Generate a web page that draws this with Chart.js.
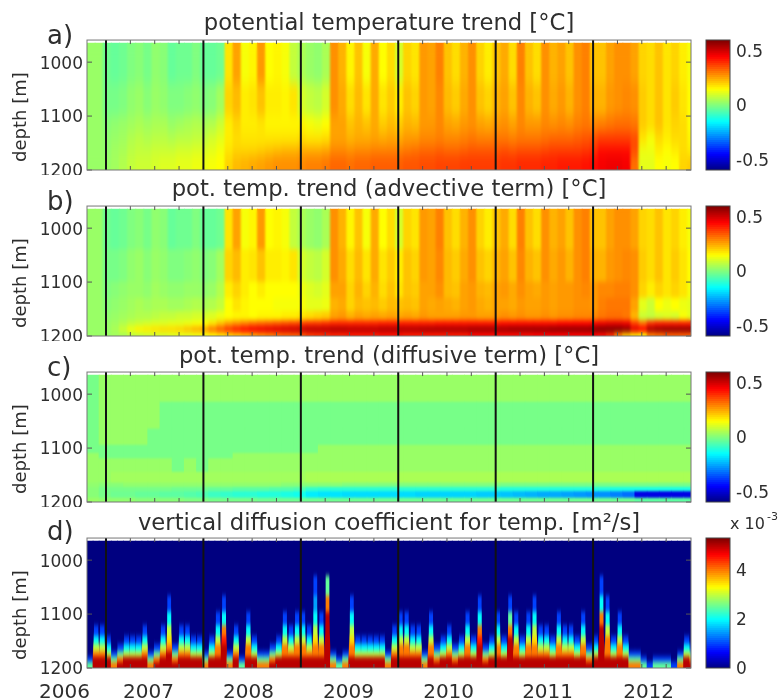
<!DOCTYPE html>
<html>
<head>
<meta charset="utf-8">
<style>
  body { margin: 0; background: #fff; }
  canvas { position: absolute; }
</style>
<script src="https://cdn.jsdelivr.net/npm/chart.js@4"></script>
</head>
<body>
<svg width="0" height="0" style="position:absolute">
  <filter id="softA" color-interpolation-filters="sRGB" x="-5%" y="-20%" width="110%" height="140%"><feGaussianBlur stdDeviation="1 6"/></filter>
  <filter id="softB" color-interpolation-filters="sRGB" x="-5%" y="-20%" width="110%" height="140%"><feGaussianBlur stdDeviation="1 2.5"/></filter>
  <filter id="softC" color-interpolation-filters="sRGB" x="-5%" y="-20%" width="110%" height="140%"><feGaussianBlur stdDeviation="0.7 1.2"/></filter>
  <filter id="softD" color-interpolation-filters="sRGB" x="-5%" y="-20%" width="110%" height="140%"><feGaussianBlur stdDeviation="0.6 2.5"/></filter>
</svg>
<script>
const depthTicks = [1000, 1100, 1200];
const yearLines = [2007, 2008, 2009, 2010, 2011, 2012];
const quarterTicks = [2007, 2007.25, 2007.5, 2007.75, 2008, 2008.25, 2008.5, 2008.75, 2009, 2009.25, 2009.5, 2009.75,
  2010, 2010.25, 2010.5, 2010.75, 2011, 2011.25, 2011.5, 2011.75, 2012, 2012.25, 2012.5, 2012.75];
const yearLabels = ['2006', '2007', '2008', '2009', '2010', '2011', '2012'];
const yearLabelPos = [2006.574, 2007.437, 2008.463, 2009.49, 2010.517, 2011.533, 2012.57];
const titles = [
  'potential temperature trend [°C]',
  'pot. temp. trend (advective term) [°C]',
  'pot. temp. trend (diffusive term) [°C]',
  'vertical diffusion coefficient for temp. [m²/s]'
];
const panelLetters = ['a)', 'b)', 'c)', 'd)'];

// a) total trend, hundredths of a degree, one list per depth band, monthly columns
const trendEdges = [965, 1040, 1100, 1130, 1155, 1175, 1200];
const trend1000 = [3,3,-2,
  -3,-2,0,1,-1,2,1,-3,-2,-2,0,-3,
  -3,-2,18,26,14,16,27,15,16,14,8,5,
  3,2,5,28,24,16,22,14,25,15,19,10,
  20,18,27,26,30,22,19,24,28,20,17,22,
  25,19,30,22,19,28,24,26,22,28,30,22,
  22,26,28,28,26,20,19,22,18,20,17,14];
const trend1070 = [3,3,-1,
  -1,0,2,3,1,3,2,0,0,1,2,0,
  1,4,20,23,17,18,22,17,17,16,18,10,
  8,7,10,28,25,19,23,18,25,18,21,17,
  22,20,27,26,29,23,21,25,28,22,20,24,
  26,22,29,24,22,28,25,27,24,28,30,24,
  24,27,28,29,28,21,19,22,18,21,18,15];
const trend1115 = [3,3,1,
  2,3,4,5,4,5,5,3,4,5,6,5,
  6,9,17,20,17,17,18,16,16,16,16,16,
  14,13,15,26,26,22,24,22,25,21,23,21,
  24,23,27,27,29,26,25,27,28,26,25,27,
  28,26,29,27,27,29,28,29,28,30,31,29,
  30,31,32,32,31,21,19,22,18,20,19,15];
const trend1142 = [3,3,2,
  3,4,6,7,6,7,7,6,7,7,8,8,
  10,12,17,19,18,18,18,18,18,18,18,19,
  18,18,19,26,26,24,25,25,26,25,26,25,
  27,27,29,29,30,29,29,30,31,30,30,31,
  31,30,31,31,31,32,33,33,33,34,35,36,
  38,38,38,38,36,18,14,19,17,19,19,16];
const trend1165 = [3,3,2,
  4,5,7,8,8,9,9,9,10,10,11,11,
  12,14,18,20,20,20,21,22,23,24,24,25,
  25,25,26,29,29,28,29,29,30,30,30,30,
  31,32,33,33,34,33,33,34,35,35,35,35,
  36,35,36,36,36,37,38,38,38,38,39,40,
  44,44,44,44,36,13,13,17,15,17,19,17];
const trend1188 = [3,3,3,
  4,6,8,9,9,10,11,11,12,12,13,13,
  14,15,20,23,24,25,26,27,28,28,28,29,
  30,30,31,33,33,32,33,33,34,34,34,34,
  35,35,36,36,37,37,37,38,38,38,38,38,
  39,39,40,40,40,41,41,42,42,42,43,44,
  46,47,47,46,32,12,12,15,14,15,20,21];

// b) advective term, upper two bands read the same as in a)
const advEdges = [965, 1040, 1100, 1130, 1155, 1172, 1183, 1194, 1200];
const adv1115 = [3,3,0,
  1,2,3,3,2,4,3,2,2,3,3,2,
  3,6,17,20,17,15,17,15,15,15,15,13,
  11,10,12,26,26,20,24,20,24,19,22,18,
  22,21,26,26,28,23,22,26,27,24,23,26,
  27,25,28,26,25,27,26,27,27,28,29,27,
  29,29,30,30,28,20,17,20,18,20,18,14];
const adv1142 = [3,3,1,
  2,3,4,5,4,5,5,4,4,5,6,5,
  6,8,15,18,16,15,15,15,14,14,14,14,
  12,12,13,24,25,20,23,22,23,21,23,22,
  23,22,26,25,26,25,24,26,27,25,24,26,
  26,25,27,26,26,27,26,27,27,28,28,27,
  30,31,31,31,26,12,9,15,13,15,13,12];
const adv1163 = [3,3,2,
  3,4,5,6,6,7,8,8,9,9,10,10,
  11,13,15,16,16,15,16,16,16,17,17,18,
  19,20,21,26,27,24,26,25,26,25,26,25,
  26,25,27,26,26,26,26,27,27,26,26,27,
  28,27,28,27,27,28,27,28,28,29,29,29,
  31,32,32,31,24,9,8,10,11,10,14,12];
const adv1178 = [3,3,3,
  4,6,8,9,10,11,11,12,12,13,14,15,
  18,22,26,28,30,32,33,34,35,36,37,38,
  39,39,40,41,41,41,41,41,41,42,42,42,
  42,42,42,42,43,43,43,43,43,43,43,43,
  44,44,44,44,44,44,44,45,45,45,45,46,
  47,48,48,47,38,32,40,42,42,42,42,42];
const adv1188 = [3,3,3,
  5,9,13,16,17,18,19,19,20,22,24,26,
  31,35,39,42,44,46,47,48,49,50,51,52,
  53,53,53,54,54,53,53,53,53,54,54,54,
  54,54,55,55,55,55,55,55,56,56,56,56,
  56,57,57,57,57,57,58,58,58,58,58,59,
  60,60,60,58,48,45,55,57,58,58,58,58];
const adv1197 = [3,3,3,
  4,5,7,8,9,10,10,11,12,12,13,14,
  16,18,20,22,24,26,28,30,32,33,34,35,
  38,39,40,41,41,42,42,42,42,43,43,43,
  42,42,42,42,42,42,42,42,44,44,44,44,
  44,44,44,44,45,45,45,45,45,45,45,45,
  44,40,30,22,18,16,30,32,34,34,34,34];

// c) diffusive term, eighth-of-a-year columns
const diffEdges = [965, 1015, 1065, 1095, 1110, 1120, 1145, 1165, 1173, 1181, 1193, 1200];
const diff990 = [-1,3, 3,3,3,3,3,3,3,3, 3,3,3,3,3,3,3,3, 3,3,3,3,3,3,3,3, 3,3,3,3,3,3,3,3, 3,3,3,3,3,3,3,3, 3,3,3,3,3,3,3,3];
const diff1040 = [-1,3, 3,3,3,3,-1,-1,-1,-1, -1,-1,-1,-1,-1,-1,-1,-1, -1,-1,-1,-1,-1,-1,-1,-1, -1,-1,-1,-1,-1,-1,-1,-1, -1,-1,-1,-1,-1,-1,-1,-1, -1,-1,-1,-1,-1,-1,-1,-1];
const diff1080 = [-1,3, 3,3,3,-1,-1,-1,-1,-1, -1,-1,-1,-1,-1,-1,-1,-1, -1,-1,-1,-1,-1,-1,-1,-1, -1,-1,-1,-1,-1,-1,-1,-1, -1,-1,-1,-1,-1,-1,-1,-1, -1,-1,-1,-1,-1,-1,-1,-1];
const diff1102 = [-1,-1, -1,-1,-1,-1,-1,-1,-1,-1, -1,-1,-1,-1,-1,-1,-1,-1, -1,3,3,3,3,3,3,3, 3,3,3,3,3,3,3,3, 3,3,3,3,3,3,3,3, 3,3,3,3,3,3,3,3];
const diff1115 = [3,-1, -1,-1,-1,-1,-1,-1,-1,-1, -1,-1,3,3,3,3,3,3, 3,3,3,3,3,3,3,3, 3,3,3,3,3,3,3,3, 3,3,3,3,3,3,3,3, 3,3,3,3,3,3,3,3];
const diff1132 = [3,3, 3,3,3,3,3,-1,3,-1, 3,3,3,3,3,3,3,3, 3,3,3,3,3,3,3,3, 3,3,3,3,3,3,3,3, 3,3,3,3,3,3,3,3, 3,3,3,3,3,3,3,3];
const diff1155 = [3,3, 4,4,4,4,4,4,4,4, 4,4,4,4,4,4,4,4, 5,5,5,5,5,5,5,5, 5,5,5,5,5,5,5,5, 5,5,5,5,5,5,5,5, 5,5,5,5,5,5,5,5];
const diff1169 = [2,1, 1,2,2,2,2,2,2,2, 2,2,2,2,2,2,1,1, 1,1,1,0,0,0,0,0, 0,0,0,0,0,0,0,0, -1,-1,-1,-1,-1,-1,-1,-1, -1,-1,-1,-1,-1,-1,-1,-1];
const diff1177 = [1,-1, -1,-1,-1,-1,-1,-2,-2,-2, -3,-3,-4,-4,-4,-5,-5,-6, -9,-10,-10,-10,-10,-10,-10,-10, -10,-10,-10,-10,-10,-10,-10,-10, -11,-11,-11,-11,-11,-11,-11,-11, -11,-12,-12,-12,-12,-12,-12,-12];
const diff1187 = [1,-1, -2,-2,-3,-3,-4,-4,-5,-6, -8,-9,-10,-10,-11,-11,-12,-13, -17,-18,-18,-19,-19,-19,-19,-19, -19,-20,-20,-20,-20,-20,-21,-21, -22,-23,-24,-25,-25,-26,-27,-28, -28,-30,-32,-48,-48,-48,-48,-48];
const diff1197 = [3,2, 2,2,1,1,1,1,0,0, -1,-1,-1,-1,-2,-2,-2,-2, -2,-2,-2,-2,-2,-2,-2,-2, -2,-2,-2,-2,-2,-2,-2,-2, -2,-2,-2,-2,-2,-2,-2,-2, -2,-2,-2,-4,-4,-4,-4,-4];

// d) diffusion coefficient in 1e-3 m2/s, sixteenth-of-a-year columns
const kvEdges = [1030, 1065, 1095, 1120, 1140, 1155, 1168, 1178, 1188, 1200];
const kvRowWidths = [0.45, 0.45, 0.5, 0.55, 0.65, 0.8, 0.9, 1, 1];
const kv1048 = [0,0,0,0,0,0,0,0,0,0, 0,0,0,0,0,0,0,0,0,0, 0,0,0,0,0,0,0,0,0,0, 0,0,0,0,0,0,0,1,0,2.5,
  0,0,0,0,0,0,0,0,0,0, 0,0,0,0,0,0,0,0,0,0, 0,0,0,0,0,0,0,0,0,0, 0,0,0,0,0,0,0,0,0,0, 0,0,0,0,1,0,0,0,0,0, 0,0,0,0,0,0,0,0,0,0];
const kv1080 = [0,0,0,0,0,0,0,0,0,0, 0,0,0,1,0,0,0,0,0,0, 0,0,1,0,0,0,0,0,0,0, 0,0,0,0,0,0,0,1.5,0,4,
  0,0,0,1,0,0,0,0,0,0, 0,0,0,0,0,0,0,0,0,0, 0,0,0,0,1,0,0,0,0,1, 0,0,0,1,0,0,0,0,0,0, 0,0,0,0,2,1,0,0,0,0, 0,0,0,0,0,0,0,0,0,0];
const kv1108 = [0,0,0,0,0,0,0,0,0,0, 0,0,0,2,0,0,0,0,0,0, 0,1,2,0,0,0,1,0,0,0, 0,0,1,0,1,1,0,2,1,5,
  0,0,0,2,0,0,0,0,0,0, 0,1,1,0,0,0,1,0,0,0, 0,0,1,0,2,0,0,1,0,2.5, 1,0,1,2,0,0,0,1,0,0, 0,1,0,0,4,2,0,1,0,0, 0,0,0,0,0,0,0,0,0,0];
const kv1130 = [0,1,1,0,0,0,0,0,0,1, 0,0,1,3,0,1,1,0,0,0, 0,2,4,0,1,0,2,0,0,0, 0,0,2,1,2,2,1,3,2,5,
  0,0,0,3,0,0,0,0,0,0, 1,2,2,1,1,0,2,0,0,1, 0,0,2,0,4,0,0,2,0,4, 2,0,2,3,1,1,0,2,1,1, 0,2,0,0,5,3,0,2,0,0, 0,0,0,0,0,0,0,0,0,0];
const kv1148 = [0,2,2,1,0,0,1,1,1,2, 0,0,2,3.5,0,2,2,1,1,0, 1,3,4.5,0,2,0,3,1,0,0, 0,1,3,2,3,3,2,3.5,3,5,
  0,0,0,3.5,1,1,1,1,1,0, 2,3,3,2,2,0,3,0,1,2, 0,1,3,1,4.5,0,1,3,1,5, 3,1,3,3.5,2,2,1,3,2,2, 1,3,0,1,5,4,1,3,1,0, 0,0,0,0,0,0,0,0,1,0];
const kv1162 = [0,3,3,2,0,1,2,2,2,3, 0,1,3,4,1,3,3,2,2,0, 2,4,5,0,3,0,4,2,0,0, 1,2,4,3,4,4,3,4,4,5,
  0,0,0,4,2,2,2,2,2,0, 3,4,4,3,3,0,4,1,2,3, 1,2,4,2,5,1,2,4,2,5, 4,2,4,4,3,3,2,4,3,3, 2,4,1,2,5,4,2,4,2,0, 0,0,0,0,0,0,0,0,2,1];
const kv1173 = [0,4,4,3,1,2.5,3,3,3,4, 1,2.5,4,5,2.5,4,4,3,3,1, 3,4,5,1,4,0,4,3,1,1, 2.5,3,4,4,4,4,4,4,4,5,
  1,0,1,4,3,3,3,3,3,1, 4,4,4,4,4,1,4,2.5,3,4, 2.5,3,4,3,5,2.5,3,4,3,5, 4,3,4,4,4,4,3,4,4,4, 3,4,2.5,3,5,4,3,4,3,1, 1,0,0,0,0,0,0,1,3,2.5];
const kv1183 = [1,5,5,5,2.5,4,5,5,5,5, 2.5,4,5,5,4,5,5,5,5,2.5, 5,5,5,2.5,5,1,5,5,2.5,2.5, 4,5,5,5,5,5,5,5,5,5,
  2.5,1,2.5,5,5,5,5,5,5,2.5, 5,5,5,5,5,2.5,5,4,5,5, 4,5,5,5,5,4,5,5,5,5, 5,5,5,5,5,5,5,5,5,5, 5,5,4,5,5,5,5,5,5,2.5, 2.5,1,0,1,1,1,0,2.5,5,4];
const kv1194 = [2.5,5,5,5,4,5,5,5,5,5, 4,5,5,5,5,5,5,5,5,4, 5,5,5,4,5,2.5,5,5,4,4, 5,5,5,5,5,5,5,5,5,5,
  4,2.5,4,5,5,5,5,5,5,4, 5,5,5,5,5,4,5,5,5,5, 5,5,5,5,5,5,5,5,5,5, 5,5,5,5,5,5,5,5,5,5, 5,5,5,5,5,5,5,5,5,4, 4,2.5,1,2.5,2.5,2.5,1,4,5,5];
const kvBackground = [0,0,0,0,0,0,0,0,0,0, 0,0,0,0,0,0,0,0,0,0, 0,0,0,0,0,0,0,0,0,0, 0,0,0,0,0,0,0,0,0,0,
  0,0,0,0,0,0,0,0,0,0, 0,0,0,0,0,0,0,0,0,0, 0,0,0,0,0,0,0,0,0,0, 0,0,0,0,0,0,0,0,0,0, 0,0,0,0,0,0,0,0,0,0, 0,0,0,0,0,0,0,0,0,0];

const tempTicks = [-0.5, 0, 0.5];
const kvTicks = [0, 2, 4];

const darkText = '#2e2e2e';
const fontName = '"DejaVu Sans"';
const dataTop = 965;

function jet(t) {
  const c = v => Math.round(255 * Math.max(0, Math.min(1, v)));
  return 'rgb(' + c(Math.min(4 * t - 1.5, -4 * t + 4.5)) + ',' + c(Math.min(4 * t - 0.5, -4 * t + 3.5)) + ',' + c(Math.min(4 * t + 0.5, -4 * t + 2.5)) + ')';
}
const tempColor = v => jet((v + 0.6) / 1.2);
const kvColor = v => jet(v / 5.3);

// one floating bar per grid cell
function cellBars(rows, edges, step, scale, colorFn, width) {
  const data = [], colors = [];
  rows.forEach((row, r) => {
    row.forEach((v, k) => {
      data.push({ x: 2006.805 + (k + 0.5) * step, y: [edges[r], edges[r + 1]] });
      colors.push(colorFn(v * scale));
    });
  });
  return { data: data, backgroundColor: colors, inflateAmount: 0.5, grouped: false, barPercentage: width || 1, categoryPercentage: 1 };
}

function drawText(ctx, text, x, y, font, align, angle) {
  ctx.save();
  ctx.fillStyle = darkText;
  ctx.font = font;
  ctx.textAlign = align;
  ctx.textBaseline = 'middle';
  ctx.translate(x, y);
  if (angle) ctx.rotate(angle);
  ctx.fillText(text, 0, 0);
  ctx.restore();
}

// the original is a smooth shaded field, so soften the cell edges a bit
function softenCells(chart, filterId) {
  const ctx = chart.ctx, a = chart.chartArea;
  const top = chart.scales.y.getPixelForValue(dataTop);
  const w = a.right - a.left, h = a.bottom - top;
  ctx.save();
  ctx.beginPath();
  ctx.rect(a.left, top, w, h);
  ctx.clip();
  ctx.filter = 'url(#' + filterId + ')';
  ctx.drawImage(chart.canvas, a.left, top, w, h, a.left, top, w, h);
  ctx.restore();
}

const heatDecor = {
  id: 'heatDecor',
  afterDatasetsDraw(chart, args, opts) {
    softenCells(chart, opts.soft);
    const ctx = chart.ctx, a = chart.chartArea, x = chart.scales.x, y = chart.scales.y;
    ctx.save();
    ctx.strokeStyle = '#555';
    ctx.lineWidth = 1;
    ctx.beginPath();
    quarterTicks.forEach(q => {
      const px = x.getPixelForValue(q);
      ctx.moveTo(px, a.top); ctx.lineTo(px, a.top + 4);
      ctx.moveTo(px, a.bottom); ctx.lineTo(px, a.bottom - 4);
    });
    depthTicks.forEach(d => {
      const py = y.getPixelForValue(d);
      ctx.moveTo(a.left, py); ctx.lineTo(a.left + 5, py);
      ctx.moveTo(a.right, py); ctx.lineTo(a.right - 5, py);
    });
    ctx.stroke();
    ctx.strokeStyle = '#111';
    ctx.lineWidth = 2;
    ctx.beginPath();
    yearLines.forEach(yr => {
      const px = x.getPixelForValue(yr);
      ctx.moveTo(px, a.top); ctx.lineTo(px, a.bottom);
    });
    ctx.stroke();
    ctx.strokeStyle = '#777';
    ctx.lineWidth = 1;
    ctx.strokeRect(a.left, a.top, a.right - a.left, a.bottom - a.top);
    ctx.restore();

    drawText(ctx, opts.letter, 47, opts.letterY, '26px ' + fontName, 'left');
    drawText(ctx, 'depth [m]', 21, a.top + 77, '18px ' + fontName, 'center', -Math.PI / 2);
    if (opts.years) {
      yearLabels.forEach((t, i) => {
        drawText(ctx, t, x.getPixelForValue(yearLabelPos[i]), a.bottom + 25, '20px ' + fontName, 'center');
      });
    }
  }
};

function makeHeatPanel(top, height, padBottom, title, titlePad, datasets, letterY, letter, years, soft) {
  const cv = document.createElement('canvas');
  cv.style.left = '0px';
  cv.style.top = top + 'px';
  document.body.appendChild(cv);
  cv.width = 700;
  cv.height = height;
  cv.style.width = '700px';
  cv.style.height = height + 'px';
  new Chart(cv, {
    type: 'bar',
    data: { datasets: datasets },
    plugins: [heatDecor],
    options: {
      responsive: false,
      animation: false,
      layout: { padding: { top: 4, right: 9, bottom: padBottom, left: 0 } },
      plugins: {
        legend: { display: false },
        tooltip: { enabled: false },
        title: {
          display: true, text: title, fullSize: false, color: darkText,
          font: { family: 'DejaVu Sans', size: 22.7, weight: 'normal' },
          padding: titlePad
        },
        heatDecor: { letter: letter, letterY: letterY, years: years, soft: soft }
      },
      scales: {
        x: {
          type: 'linear', offset: false, min: 2006.805, max: 2013.005,
          grid: { display: false }, border: { display: false },
          ticks: { display: false },
          afterBuildTicks: ax => { ax.ticks = quarterTicks.map(v => ({ value: v })); },
          afterFit: ax => { ax.height = 0; }
        },
        y: {
          reverse: true, min: 959, max: 1200,
          grid: { display: false, drawTicks: false }, border: { display: false },
          ticks: { color: darkText, padding: 4, labelOffset: 2, font: { family: 'DejaVu Sans', size: 17 }, callback: v => String(v) },
          afterBuildTicks: ax => { ax.ticks = depthTicks.map(v => ({ value: v })); },
          afterFit: ax => { ax.width = 87; ax.paddingTop = 0; ax.paddingBottom = 0; }
        }
      }
    }
  });
}

const barDecor = {
  id: 'barDecor',
  afterDatasetsDraw(chart, args, opts) {
    const ctx = chart.ctx, a = chart.chartArea;
    ctx.save();
    ctx.strokeStyle = '#444';
    ctx.strokeRect(a.left, a.top, a.right - a.left, a.bottom - a.top);
    ctx.restore();
    if (opts.power) {
      drawText(ctx, 'x 10', 30, a.top - 13, '16px ' + fontName, 'left');
      drawText(ctx, '-3', 67, a.top - 21, '11px ' + fontName, 'left');
    }
  }
};

function makeColorbar(top, height, padBottom, lo, hi, ticks, colorFn, power) {
  const cv = document.createElement('canvas');
  cv.style.left = '700px';
  cv.style.top = top + 'px';
  document.body.appendChild(cv);
  cv.width = 83;
  cv.height = height;
  cv.style.width = '83px';
  cv.style.height = height + 'px';
  const levels = [];
  for (let i = 0; i < 64; i++) levels.push(lo + (hi - lo) * (i + 0.5) / 64);
  new Chart(cv, {
    type: 'bar',
    data: {
      datasets: [{
        data: levels.map(v => ({ y: v, x: [0, 1] })),
        backgroundColor: levels.map(colorFn),
        inflateAmount: 0.5, barPercentage: 1, categoryPercentage: 1
      }]
    },
    plugins: [barDecor],
    options: {
      indexAxis: 'y',
      responsive: false,
      animation: false,
      layout: { padding: { top: 40, right: 0, bottom: padBottom, left: 6 } },
      plugins: {
        legend: { display: false },
        tooltip: { enabled: false },
        barDecor: { power: power }
      },
      scales: {
        x: { type: 'linear', min: 0, max: 1, display: false },
        y: {
          type: 'linear', position: 'right', offset: false, min: lo, max: hi,
          grid: { display: false, drawTicks: false }, border: { display: false },
          ticks: { color: darkText, padding: 6, labelOffset: 2, font: { family: 'DejaVu Sans', size: 17 } },
          afterBuildTicks: ax => { ax.ticks = ticks.map(v => ({ value: v })); },
          afterFit: ax => { ax.width = 53; ax.paddingTop = 0; ax.paddingBottom = 0; }
        }
      }
    }
  });
}

const trendRows = [trend1000, trend1070, trend1115, trend1142, trend1165, trend1188];
const advRows = [trend1000, trend1070, adv1115, adv1142, adv1163, adv1178, adv1188, adv1197];
const diffRows = [diff990, diff1040, diff1080, diff1102, diff1115, diff1132, diff1155, diff1169, diff1177, diff1187, diff1197];
const kvRows = [kv1048, kv1080, kv1108, kv1130, kv1148, kv1162, kv1173, kv1183, kv1194];

// narrower bars high up make the spikes taper, the first dataset is drawn on top
const kvDatasets = kvRows.map((row, r) => cellBars([row], [kvEdges[r], kvEdges[r + 1]], 1 / 16, 1, kvColor, kvRowWidths[r]));
kvDatasets.push(cellBars([kvBackground], [965, 1200], 1 / 16, 1, kvColor, 1));

makeHeatPanel(0, 175, 5, titles[0], { top: 6.4, bottom: 2.4 }, [cellBars(trendRows, trendEdges, 1 / 12, 0.01, tempColor)], 37, panelLetters[0], false, 'softA');
makeHeatPanel(166, 175, 5, titles[1], { top: 6.4, bottom: 2.4 }, [cellBars(advRows, advEdges, 1 / 12, 0.01, tempColor)], 37, panelLetters[1], false, 'softB');
makeHeatPanel(332, 175, 5, titles[2], { top: 7.4, bottom: 1.4 }, [cellBars(diffRows, diffEdges, 1 / 8, 0.01, tempColor)], 37, panelLetters[2], false, 'softC');
makeHeatPanel(498, 202, 32, titles[3], { top: 8.8, bottom: 0 }, kvDatasets, 35, panelLetters[3], true, 'softD');

makeColorbar(0, 175, 5, -0.6, 0.6, tempTicks, tempColor, false);
makeColorbar(166, 175, 5, -0.6, 0.6, tempTicks, tempColor, false);
makeColorbar(332, 175, 5, -0.6, 0.6, tempTicks, tempColor, false);
makeColorbar(498, 202, 32, 0, 5.3, kvTicks, kvColor, true);
</script>
</body>
</html>
